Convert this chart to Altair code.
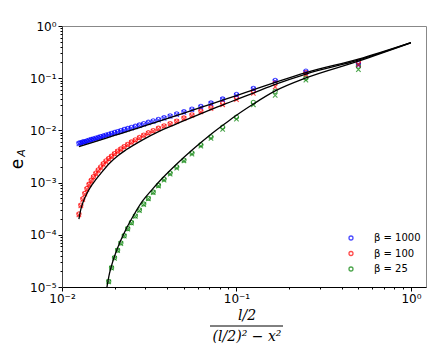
import altair as alt
import pandas as pd

# marker abscissae (l/2)/((l/2)^2 - x^2)
Z = [0.5, 0.25, 0.1667, 0.125, 0.1, 0.08333, 0.07143, 0.0625, 0.05556, 0.05,
     0.04545, 0.04167, 0.03846, 0.03571, 0.03333, 0.03125, 0.02941, 0.02778, 0.02632, 0.025,
     0.02381, 0.02273, 0.02174, 0.02083, 0.02, 0.01923, 0.01852, 0.01786, 0.01724, 0.01667,
     0.01613, 0.01563, 0.01515, 0.01471, 0.01429, 0.01389, 0.01351, 0.01316, 0.01282, 0.0125]

BLUE_O = [0.19, 0.137, 0.091, 0.064, 0.049, 0.040, 0.0335, 0.0288, 0.0255, 0.0228,
          0.0207, 0.0190, 0.0175, 0.0163, 0.0152, 0.0143, 0.0135, 0.0127, 0.0120, 0.0114,
          0.0109, 0.0104, 0.0099, 0.0095, 0.0091, 0.0088, 0.0084, 0.0081, 0.0078, 0.0076,
          0.0073, 0.0071, 0.0069, 0.0067, 0.0065, 0.0063, 0.0061, 0.0060, 0.0058, 0.0057]
BLUE_X = [0.178, 0.130, 0.087, 0.062, 0.047, 0.039, 0.0325, 0.0280, 0.0248, 0.0222,
          0.0201, 0.0185, 0.0170, 0.0158, 0.0148, 0.0139, 0.0131, 0.0123, 0.0117, 0.0111,
          0.0106, 0.0101, 0.0097, 0.0093, 0.0089, 0.0086, 0.0082, 0.0079, 0.0076, 0.0074,
          0.0071, 0.0069, 0.0067, 0.0065, 0.0063, 0.0061, 0.0060, 0.0058, 0.0057, 0.0055]
RED_O = [0.21, 0.127, 0.081, 0.056, 0.042, 0.033, 0.0272, 0.0235, 0.0198, 0.0173,
         0.0151, 0.0135, 0.0122, 0.0110, 0.0099, 0.0090, 0.0081, 0.0073, 0.0066, 0.0060,
         0.0054, 0.0049, 0.0044, 0.0040, 0.0036, 0.0032, 0.0029, 0.0026, 0.0023, 0.0020,
         0.00175, 0.00152, 0.00130, 0.00111, 0.00093, 0.00077, 0.00062, 0.00049, 0.00037, 0.00025]
RED_X = [0.18, 0.118, 0.068, 0.051, 0.039, 0.031, 0.0262, 0.0226, 0.0192, 0.0168,
         0.0147, 0.0132, 0.0119, 0.0107, 0.0097, 0.0088, 0.0079, 0.0071, 0.0064, 0.0058,
         0.0053, 0.0048, 0.0043, 0.0039, 0.0035, 0.0031, 0.0028, 0.0025, 0.0022, 0.0019,
         0.00168, 0.00146, 0.00125, 0.00107, 0.00090, 0.00074, 0.00060, 0.00047, 0.00036, 0.00024]
GREEN_O = [0.17, 0.100, 0.056, 0.0345, 0.018, 0.0115, 0.0075, 0.0053, 0.0037, 0.0027,
           0.0020, 0.00152, 0.00117, 0.00089, 0.00066, 0.00050, 0.00039, 0.00030, 0.00023, 0.000172,
           0.000132, 0.000096, 0.000070, 0.000051, 0.0000365, 0.0000235, 0.0000128]
GREEN_X = [0.146, 0.092, 0.047, 0.031, 0.0165, 0.0105, 0.0070, 0.0050, 0.0035, 0.0026,
           0.0019, 0.00145, 0.00112, 0.00086, 0.00064, 0.00049, 0.00038, 0.00029, 0.000225, 0.000168,
           0.000128, 0.000094, 0.000068, 0.000050, 0.0000355, 0.000023, 0.0000125]

# reference curves (black lines)
LB_Z = [0.0125, 0.015, 0.02, 0.025, 0.03, 0.04, 0.05, 0.0625, 0.0833, 0.1, 0.125, 0.1667, 0.25, 0.5, 1.0]
LB_Y = [0.0049, 0.0059, 0.0080, 0.0101, 0.0123, 0.0168, 0.0215, 0.0275, 0.038, 0.0465, 0.060, 0.083, 0.128, 0.232, 0.48]
LR_Z = [0.0125, 0.0128, 0.0132, 0.0138, 0.0145, 0.0155, 0.0167, 0.0186, 0.021, 0.0232, 0.029, 0.036,
        0.045, 0.056, 0.07, 0.087, 0.104, 0.125, 0.1667, 0.25, 0.5, 1.0]
LR_Y = [2.0e-4, 3.0e-4, 4.2e-4, 5.9e-4, 8.0e-4, 1.1e-3, 1.5e-3, 2.3e-3, 3.3e-3, 4.2e-3, 6.6e-3, 9.6e-3,
        0.0132, 0.018, 0.0245, 0.0325, 0.041, 0.052, 0.076, 0.12, 0.222, 0.478]
LG_Z = [0.0181, 0.0187, 0.0195, 0.021, 0.0232, 0.026, 0.0289, 0.033, 0.0361, 0.045, 0.0561, 0.07,
        0.0873, 0.1, 0.125, 0.1667, 0.25, 0.5, 1.0]
LG_Y = [1.0e-5, 1.8e-5, 3.0e-5, 6.0e-5, 1.25e-4, 2.5e-4, 4.4e-4, 7.5e-4, 1.05e-3, 2.2e-3, 4.3e-3, 8.0e-3,
        0.0140, 0.0195, 0.032, 0.057, 0.101, 0.212, 0.475]

SERIES = ["β = 1000", "β = 100", "β = 25"]
COLORS = ["#0000ff", "#ff0000", "#008000"]

X_MAJOR = [0.01, 0.1, 1.0]
X_MINOR = [0.02, 0.03, 0.04, 0.05, 0.06, 0.07, 0.08, 0.09, 0.2, 0.3, 0.4, 0.5, 0.6, 0.7, 0.8, 0.9]
Y_MAJOR = [1e-5, 1e-4, 1e-3, 1e-2, 1e-1, 1.0]
Y_MINOR = [k * 10.0 ** e for e in range(-5, 0) for k in range(2, 10)]

o_rows, x_rows, l_rows = [], [], []
for s, vo, vx in zip(SERIES, [BLUE_O, RED_O, GREEN_O], [BLUE_X, RED_X, GREEN_X]):
    for z, v in zip(Z, vo):
        o_rows.append({"z": z, "e": v, "s": s})
    for z, v in zip(Z, vx):
        x_rows.append({"z": z, "e": v, "s": s})
for s, zz, yy in zip(SERIES, [LB_Z, LR_Z, LG_Z], [LB_Y, LR_Y, LG_Y]):
    for i, (z, v) in enumerate(zip(zz, yy)):
        l_rows.append({"z": z, "e": v, "s": s, "i": i})

df_o = pd.DataFrame(o_rows)
df_x = pd.DataFrame(x_rows)
df_l = pd.DataFrame(l_rows)

xs = alt.Scale(type="log", domain=[0.01, 1.22], nice=False)
ys = alt.Scale(type="log", domain=[1e-5, 1.0], nice=False)
cs = alt.Scale(domain=SERIES, range=COLORS)

x_lab = "datum.value < 0.05 ? '10⁻²' : datum.value < 0.5 ? '10⁻¹' : '10⁰'"
y_lab = ("datum.value < 5e-5 ? '10⁻⁵' : datum.value < 5e-4 ? '10⁻⁴' : datum.value < 5e-3 ? '10⁻³' : "
         "datum.value < 5e-2 ? '10⁻²' : datum.value < 0.5 ? '10⁻¹' : '10⁰'")

ax_x_major = alt.Axis(values=X_MAJOR, orient="bottom", tickSize=4, labelExpr=x_lab, grid=False,
                      title=None, domainColor="black", tickColor="black", labelColor="black",
                      labelFont="DejaVu Sans", labelFontSize=12, labelPadding=2, labelFlush=False)
ax_x_minor = alt.Axis(values=X_MINOR, orient="bottom", tickSize=2, labels=False, domain=False,
                      grid=False, title=None, tickColor="black")
ax_y_major = alt.Axis(values=Y_MAJOR, orient="left", tickSize=4, labelExpr=y_lab, grid=False,
                      title=None, domainColor="#444", tickColor="black", labelColor="black",
                      labelFont="DejaVu Sans", labelFontSize=12, labelPadding=2, labelFlush=False)
ax_y_minor = alt.Axis(values=Y_MINOR, orient="left", tickSize=2, labels=False, domain=False,
                      grid=False, title=None, tickColor="black")

circles = alt.Chart(df_o).mark_point(shape="circle", filled=False, size=18, strokeWidth=1.1, clip=True).encode(
    x=alt.X("z:Q", scale=xs, axis=ax_x_major),
    y=alt.Y("e:Q", scale=ys, axis=ax_y_major),
    color=alt.Color("s:N", scale=cs, sort=SERIES, title=None, legend=alt.Legend(
        orient="none", legendX=284, legendY=207, symbolType="circle", symbolFillColor="transparent",
        symbolSize=16, symbolStrokeWidth=1.3, labelFont="DejaVu Sans", labelFontSize=10,
        labelOffset=18, rowPadding=5.5, padding=0, labelColor="black")),
)
crosses = alt.Chart(df_x).mark_point(shape="M-1,-1L1,1M-1,1L1,-1", filled=False, size=20,
                                     strokeWidth=1.1, clip=True).encode(
    x=alt.X("z:Q", scale=xs, axis=ax_x_minor),
    y=alt.Y("e:Q", scale=ys, axis=ax_y_minor),
    color=alt.Color("s:N", scale=cs, legend=None),
)
lines = alt.Chart(df_l).mark_line(color="black", strokeWidth=1.3, clip=True, interpolate="monotone").encode(
    x=alt.X("z:Q", scale=xs, axis=None),
    y=alt.Y("e:Q", scale=ys, axis=None),
    detail="s:N",
    order="i:Q",
)

t_df = pd.DataFrame({"t": ["l/2"]})
num = alt.Chart(t_df).mark_text(font="DejaVu Serif", fontStyle="italic", fontSize=14, color="black",
                                baseline="middle").encode(
    text="t:N", x=alt.value(185), y=alt.value(290))
den = alt.Chart(pd.DataFrame({"t": ["(l/2)² − x²"]})).mark_text(
    font="DejaVu Serif", fontStyle="italic", fontSize=14, color="black", baseline="middle").encode(
    text="t:N", x=alt.value(185), y=alt.value(311))
bar = alt.Chart(t_df).mark_rule(color="black", strokeWidth=1).encode(
    x=alt.value(148), x2=alt.value(221), y=alt.value(300))
ylab_e = alt.Chart(pd.DataFrame({"t": ["e"]})).mark_text(
    font="DejaVu Sans", fontSize=17, angle=270, color="black", baseline="middle").encode(
    text="t:N", x=alt.value(-44), y=alt.value(138))
ylab_a = alt.Chart(pd.DataFrame({"t": ["A"]})).mark_text(
    font="DejaVu Sans", fontStyle="italic", fontSize=11, angle=270, color="black", baseline="middle").encode(
    text="t:N", x=alt.value(-40), y=alt.value(127))

chart = alt.layer(circles, crosses, lines, num, den, bar, ylab_e, ylab_a).resolve_axis(
    x="independent", y="independent"
).properties(
    width=364, height=261, autosize="none",
    padding={"left": 54, "top": 18, "right": 2, "bottom": 58},
).configure_view(stroke="#888", strokeWidth=1)

chart.save("out.html", embed_options={"renderer": "svg", "actions": False})
